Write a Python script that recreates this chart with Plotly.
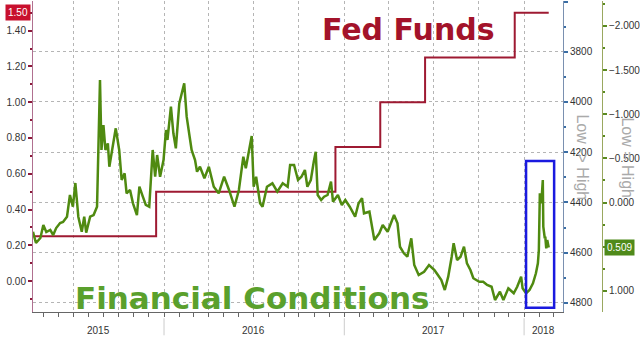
import plotly.graph_objects as go

# ---------------- data ----------------
fed_dates = ["2015-04-10", "2015-12-16", "2016-12-14", "2017-03-15", "2017-06-14", "2017-12-13", "2018-02-20"]
fed_values = [0.25, 0.50, 0.75, 1.00, 1.25, 1.50, 1.50]

fci_dates = [
    "2015-04-10", "2015-04-16", "2015-04-25", "2015-05-01", "2015-05-07", "2015-05-15", "2015-05-21",
    "2015-05-27", "2015-06-04", "2015-06-10", "2015-06-18", "2015-06-24", "2015-06-30", "2015-07-05",
    "2015-07-11", "2015-07-18", "2015-07-23", "2015-07-27", "2015-08-04", "2015-08-11", "2015-08-18",
    "2015-08-24", "2015-08-27", "2015-08-31", "2015-09-04", "2015-09-09", "2015-09-12", "2015-09-17",
    "2015-09-25", "2015-10-02", "2015-10-07", "2015-10-13", "2015-10-17", "2015-10-24", "2015-10-30",
    "2015-11-07", "2015-11-12", "2015-11-19", "2015-11-25", "2015-12-02", "2015-12-09", "2015-12-14",
    "2015-12-18", "2015-12-24", "2015-12-31",
    "2016-01-05", "2016-01-08", "2016-01-15", "2016-01-20", "2016-01-25", "2016-02-01", "2016-02-11",
    "2016-02-16", "2016-02-22", "2016-02-26", "2016-03-04", "2016-03-08", "2016-03-14", "2016-03-23",
    "2016-04-01", "2016-04-11", "2016-04-21", "2016-05-02", "2016-05-12", "2016-05-23", "2016-06-01",
    "2016-06-10", "2016-06-15", "2016-06-27", "2016-07-01", "2016-07-06", "2016-07-14", "2016-07-19",
    "2016-07-28", "2016-08-08", "2016-08-18", "2016-08-29", "2016-09-08", "2016-09-13", "2016-09-21",
    "2016-09-29", "2016-10-06", "2016-10-13", "2016-10-18", "2016-10-25", "2016-10-31", "2016-11-04",
    "2016-11-08", "2016-11-15", "2016-11-21", "2016-11-28", "2016-12-05", "2016-12-09", "2016-12-19",
    "2016-12-27",
    "2017-01-03", "2017-01-12", "2017-01-23", "2017-01-30", "2017-02-06", "2017-02-10", "2017-02-21",
    "2017-03-03", "2017-03-13", "2017-03-20", "2017-03-30", "2017-04-12", "2017-04-19", "2017-04-24",
    "2017-05-02", "2017-05-09", "2017-05-17", "2017-05-23", "2017-06-01", "2017-06-12", "2017-06-22",
    "2017-07-03", "2017-07-10", "2017-07-17", "2017-07-24", "2017-07-31", "2017-08-07", "2017-08-11",
    "2017-08-18", "2017-08-25", "2017-09-01", "2017-09-07", "2017-09-14", "2017-09-20", "2017-10-02",
    "2017-10-10", "2017-10-18", "2017-10-27", "2017-11-03", "2017-11-13", "2017-11-20", "2017-11-30",
    "2017-12-11", "2017-12-18", "2017-12-26", "2017-12-29",
    "2018-01-05", "2018-01-12", "2018-01-19", "2018-01-25", "2018-01-29", "2018-01-31", "2018-02-02",
    "2018-02-05", "2018-02-08", "2018-02-09", "2018-02-12", "2018-02-13", "2018-02-15", "2018-02-17",
    "2018-02-20",
]
fci_values = [
    0.331, 0.459, 0.402, 0.255, 0.334, 0.311, 0.368,
    0.289, 0.232, 0.221, 0.161, -0.085, 0.048, -0.221,
    0.161, 0.331, 0.161, 0.342, 0.161, 0.142, 0.048,
    -1.387, -0.595, -0.878, -0.595, -0.670, -0.405, -0.557,
    -0.840, -0.595, -0.255, -0.331, -0.104, -0.142, 0.009,
    0.142, -0.179, -0.066, 0.028, 0.048, -0.595, -0.292,
    -0.538, -0.292, -0.481,
    -0.821, -0.708, -1.085, -0.784, -0.614, -1.123, -1.350,
    -0.972, -0.745, -0.595, -0.481, -0.349, -0.405, -0.274,
    -0.405, -0.179, -0.104, -0.292, -0.142, 0.048, -0.142,
    -0.519, -0.387, -0.753, -0.179, -0.292, 0.009, 0.048,
    -0.179, -0.217, -0.122, -0.217, -0.179, -0.425, -0.425,
    -0.255, -0.292, -0.368, -0.179, -0.255, -0.462, -0.575,
    -0.085, -0.028, -0.066, -0.085, -0.236, -0.009, -0.085,
    0.028,
    -0.028, 0.048, 0.161, 0.009, -0.048, 0.122, 0.104,
    0.425, 0.349, 0.255, 0.331, 0.142, 0.236, 0.501,
    0.575, 0.614, 0.405, 0.708, 0.821, 0.784, 0.708,
    0.764, 0.821, 0.878, 0.991, 0.840, 0.614, 0.462,
    0.651, 0.614, 0.501, 0.689, 0.764, 0.858, 0.897,
    0.897, 0.934, 0.954, 1.104, 1.010, 1.104, 0.972,
    1.028, 0.954, 0.840, 0.972,
    1.028, 0.991, 0.915, 0.802, 0.689, 0.538, -0.104,
    0.009, -0.255, 0.274, 0.405, 0.387, 0.519, 0.425,
    0.509,
]

left_ticks = [0.0, 0.2, 0.4, 0.6, 0.8, 1.0, 1.2, 1.4]
idx_ticks = [3600, 3800, 4000, 4200, 4400, 4600, 4800]
idx_labels = ["", "3800", "4000", "4200", "4400", "4600", "4800"]
fci_ticks = [-2.0, -1.5, -1.0, -0.5, 0.0, 1.0]
quarter_grid = ["2015-07-01", "2015-10-01", "2016-01-01", "2016-04-01", "2016-07-01", "2016-10-01",
                "2017-01-01", "2017-04-01", "2017-07-01", "2017-10-01", "2018-01-01"]
year_labels = ["2015", "2016", "2017", "2018"]
year_label_pos = ["2015-08-20", "2016-07-01", "2017-07-02", "2018-02-09"]
year_bounds = ["2016-01-01", "2017-01-01", "2018-01-01"]

x_range = ["2015-04-10", "2018-03-21"]

RED = "#9e1a32"
GREEN = "#4f8a10"
W, H = 640, 339
ML, MR, MT, MB = 33, 0, 1, 27
plot_w = W - ML - MR
x_dom_end = (563 - ML) / plot_w
y3_pos = (602 - ML) / plot_w

fig = go.Figure()

# invisible trace to bring up the index axis
fig.add_trace(go.Scatter(x=[], y=[], yaxis="y2", showlegend=False, hoverinfo="skip"))

fig.add_trace(go.Scatter(
    x=fed_dates, y=fed_values, mode="lines", yaxis="y",
    line=dict(color=RED, width=2, shape="hv"), showlegend=False))

fig.add_trace(go.Scatter(
    x=fci_dates, y=fci_values, mode="lines", yaxis="y3",
    line=dict(color=GREEN, width=2.5), showlegend=False))

tickfont = dict(family="Liberation Sans, Arial", size=10, color="#333333")

fig.update_layout(
    width=W, height=H,
    margin=dict(l=ML, r=MR, t=MT, b=MB),
    paper_bgcolor="white", plot_bgcolor="white",
    xaxis=dict(
        type="date", range=x_range, domain=[0, x_dom_end],
        tickmode="array", tickvals=quarter_grid, showticklabels=False,
        ticks="outside", ticklen=4, tickcolor="#666666",
        showgrid=True, gridcolor="#b5b5b5", griddash="dot", gridwidth=1,
        showline=True, linecolor="#666666", linewidth=1,
        minor=dict(dtick="M1", tick0="2015-01-01", ticks="outside", ticklen=4,
                   tickcolor="#666666", showgrid=False),
        zeroline=False,
    ),
    yaxis=dict(
        range=[-0.173, 1.566], tickmode="array", tickvals=left_ticks,
        tickformat=".2f", tickfont=tickfont,
        ticks="outside", ticklen=4, tickwidth=2, tickcolor="#8b1a3a",
        showline=True, linecolor="#b07090", linewidth=1,
        showgrid=False, zeroline=False,
        minor=dict(dtick=0.1, tick0=0, ticks="outside", ticklen=2, tickcolor="#8b1a3a"),
    ),
    yaxis2=dict(
        overlaying="y", side="right", anchor="x",
        range=[4836, 3598], tickmode="array", tickvals=idx_ticks, ticktext=idx_labels,
        tickfont=tickfont,
        ticks="outside", ticklen=4, tickwidth=2, tickcolor="#3a6ea5",
        showline=True, linecolor="#7a90b0", linewidth=1,
        showgrid=True, gridcolor="#b5b5b5", griddash="dot", gridwidth=1,
        zeroline=False,
        minor=dict(dtick=100, tick0=3600, ticks="outside", ticklen=2, tickcolor="#3a6ea5", showgrid=False),
    ),
    yaxis3=dict(
        overlaying="y", side="right", anchor="free", position=y3_pos,
        range=[1.240, -2.282], tickmode="array", tickvals=fci_ticks,
        tickformat=".3f", tickfont=tickfont,
        ticks="outside", ticklen=4, tickwidth=2, tickcolor="#5a8a20",
        showline=True, linecolor="#9aa860", linewidth=1,
        showgrid=False, zeroline=False,
        minor=dict(dtick=0.25, tick0=0, ticks="outside", ticklen=2, tickcolor="#5a8a20"),
    ),
)

annotations = []
for lab, pos in zip(year_labels, year_label_pos):
    annotations.append(dict(x=pos, y=-0.058, xref="x", yref="paper", text=lab, showarrow=False,
                            font=dict(family="Liberation Sans, Arial", size=10, color="#333333"),
                            xanchor="center", yanchor="middle"))

annotations += [
    dict(x=0.6194, y=0.908, xref="paper", yref="paper", text="<b>Fed Funds</b>", showarrow=False,
         font=dict(family="DejaVu Sans", size=30, color="#a3132a"), xanchor="center", yanchor="middle"),
    dict(x=0.3616, y=0.045, xref="paper", yref="paper", text="<b>Financial Conditions</b>", showarrow=False,
         font=dict(family="DejaVu Sans", size=31, color="#5aa02c"), xanchor="center", yanchor="middle"),
    dict(x=0, y=1.50, xref="paper", yref="y", text="1.50", showarrow=False, xanchor="right", xshift=-2,
         font=dict(family="Liberation Sans, Arial", size=10, color="white"), bgcolor="#c8102e",
         borderpad=2),
    dict(x=y3_pos, y=fci_values[-1], xref="paper", yref="y3", text=f"{fci_values[-1]:.3f}", showarrow=False,
         xanchor="left", xshift=2,
         font=dict(family="Liberation Sans, Arial", size=10, color="white"), bgcolor="#4f8a1a",
         borderpad=2),
    dict(x=(583 - ML) / plot_w, y=0.497, xref="paper", yref="paper", text="Low -> High", showarrow=False,
         textangle=90, font=dict(family="Liberation Sans, Arial", size=16, color="#aaaaaa"),
         xanchor="center", yanchor="middle"),
    dict(x=(628 - ML) / plot_w, y=0.497, xref="paper", yref="paper", text="Low = High", showarrow=False,
         textangle=90, font=dict(family="Liberation Sans, Arial", size=16, color="#aaaaaa"),
         xanchor="center", yanchor="middle"),
]
fig.update_layout(annotations=annotations)

shapes = []
for b in year_bounds:
    shapes.append(dict(type="line", xref="x", yref="paper", x0=b, x1=b, y0=-0.02, y1=-0.075,
                       line=dict(color="#cccccc", width=1)))
shapes.append(dict(type="rect", xref="x", yref="y3", x0="2018-01-05", x1="2018-03-03",
                   y0=-0.470, y1=1.191, line=dict(color="#1a1adf", width=2.5)))
fig.update_layout(shapes=shapes)

fig.write_html("out.html")
